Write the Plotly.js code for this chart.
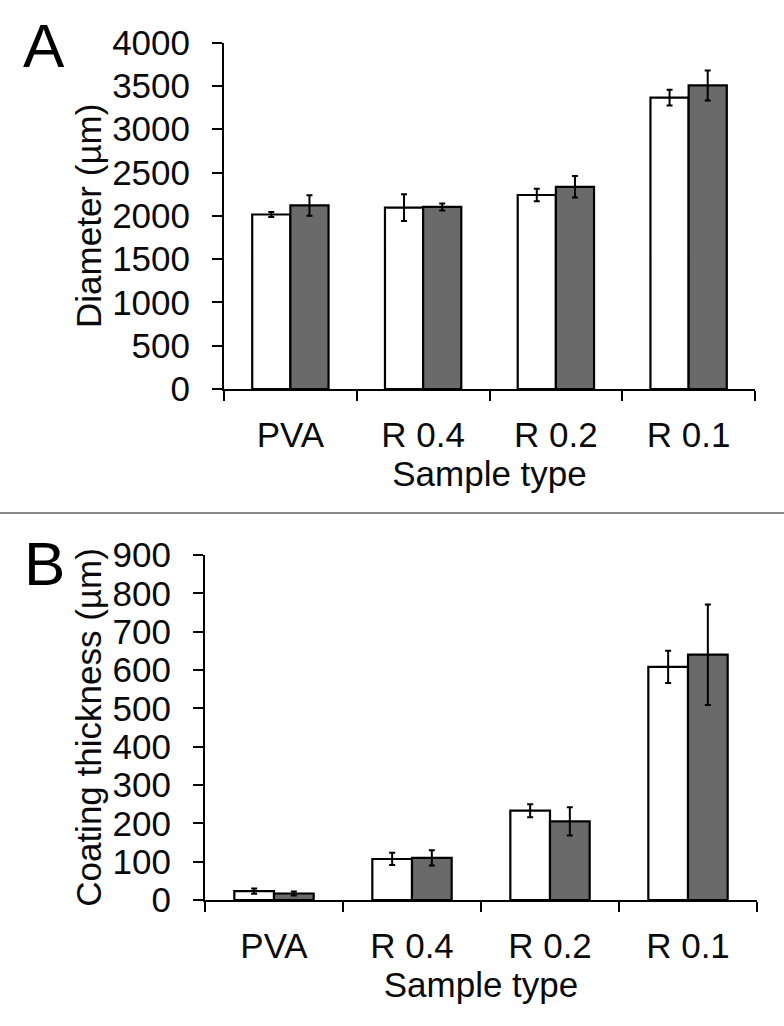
<!DOCTYPE html>
<html>
<head>
<meta charset="utf-8">
<script src="https://cdn.plot.ly/plotly-3.0.1.min.js"></script>
<style>html,body{margin:0;padding:0;background:#fff;}#chart{width:784px;height:1026px;}</style>
</head>
<body>
<div id="chart"></div>
<script>
// ---- data ----
var categories = ['PVA', 'R 0.4', 'R 0.2', 'R 0.1'];
var diameterWhite = [2015, 2095, 2240, 3365];
var diameterWhiteErr = [30, 155, 72, 91];
var diameterGray = [2120, 2102, 2335, 3505];
var diameterGrayErr = [118, 40, 124, 173];
var coatingWhite = [23, 107, 233, 608];
var coatingWhiteErr = [7, 16, 17, 42];
var coatingGray = [17, 110, 205, 640];
var coatingGrayErr = [5, 20, 37, 131];
var diameterTicks = [0, 500, 1000, 1500, 2000, 2500, 3000, 3500, 4000];
var coatingTicks = [0, 100, 200, 300, 400, 500, 600, 700, 800, 900];

// ---- style ----
var W = 784, H = 1026;
var FONT = 'Liberation Sans, Arial, Helvetica, sans-serif';
var TXT = '#0a0a0a';
var GRAY = '#6a6a6a';
function px(x) { return x / W; }
function py(y) { return 1 - y / H; }

function barTrace(x, y, err, fill, xa, ya, name) {
  return {
    type: 'bar', x: x, y: y, name: name, xaxis: xa, yaxis: ya,
    marker: { color: fill, line: { color: '#000', width: 2.2 } },
    error_y: { type: 'data', array: err, visible: true, color: '#000', thickness: 2, width: 3 },
    hoverinfo: 'x+y'
  };
}

var data = [
  barTrace(categories, diameterWhite, diameterWhiteErr, '#ffffff', 'x', 'y', 'Series 1'),
  barTrace(categories, diameterGray, diameterGrayErr, GRAY, 'x', 'y', 'Series 2'),
  barTrace(categories, coatingWhite, coatingWhiteErr, '#ffffff', 'x2', 'y2', 'Series 1'),
  barTrace(categories, coatingGray, coatingGrayErr, GRAY, 'x2', 'y2', 'Series 2')
];

function xAxis(domain, anchor) {
  return {
    domain: domain, anchor: anchor, type: 'category', range: [-0.5, 3.5],
    showline: true, linecolor: '#000', linewidth: 2,
    ticks: 'outside', tickson: 'boundaries', ticklen: 10, tickwidth: 2, tickcolor: '#000',
    showgrid: false, zeroline: false, automargin: false,
    tickfont: { family: FONT, size: 35, color: TXT }, ticklabelstandoff: 14,
    title: { text: 'Sample type', font: { family: FONT, size: 35, color: TXT }, standoff: 0 }
  };
}
function yAxis(domain, anchor, range, ticks, title) {
  return {
    domain: domain, anchor: anchor, range: range, tickmode: 'array', tickvals: ticks,
    showline: true, linecolor: '#000', linewidth: 2,
    ticks: 'outside', ticklen: 10, tickwidth: 2, tickcolor: '#000',
    showgrid: false, zeroline: false, automargin: false,
    tickfont: { family: FONT, size: 35, color: TXT }, ticklabelstandoff: 15,
    title: { text: title, font: { family: FONT, size: 35, color: TXT }, standoff: 0 }
  };
}

var layout = {
  width: W, height: H, autosize: false,
  margin: { l: 0, r: 0, t: 0, b: 0 },
  paper_bgcolor: '#fff', plot_bgcolor: '#fff',
  showlegend: false,
  barmode: 'group', bargap: 0.425, bargroupgap: 0,
  font: { family: FONT, color: TXT },
  xaxis: xAxis([px(224), px(755)], 'y'),
  yaxis: yAxis([py(389), py(42.6)], 'x', [0, 4000], diameterTicks, 'Diameter (µm)'),
  xaxis2: xAxis([px(205), px(757)], 'y2'),
  yaxis2: yAxis([py(900), py(555)], 'x2', [0, 900], coatingTicks, 'Coating thickness (µm)'),
  shapes: [{
    type: 'line', xref: 'paper', yref: 'paper', x0: 0, x1: 1, y0: py(513), y1: py(513),
    line: { color: '#8a8a8a', width: 2 }
  }],
  annotations: [
    { text: 'A', xref: 'paper', yref: 'paper', x: px(44), y: py(45), xanchor: 'center', yanchor: 'middle',
      showarrow: false, font: { family: FONT, size: 62, color: '#000' } },
    { text: 'B', xref: 'paper', yref: 'paper', x: px(44), y: py(563), xanchor: 'center', yanchor: 'middle',
      showarrow: false, font: { family: FONT, size: 62, color: '#000' } }
  ]
};

Plotly.newPlot('chart', data, layout, { displayModeBar: false, staticPlot: true });
</script>
</body>
</html>
